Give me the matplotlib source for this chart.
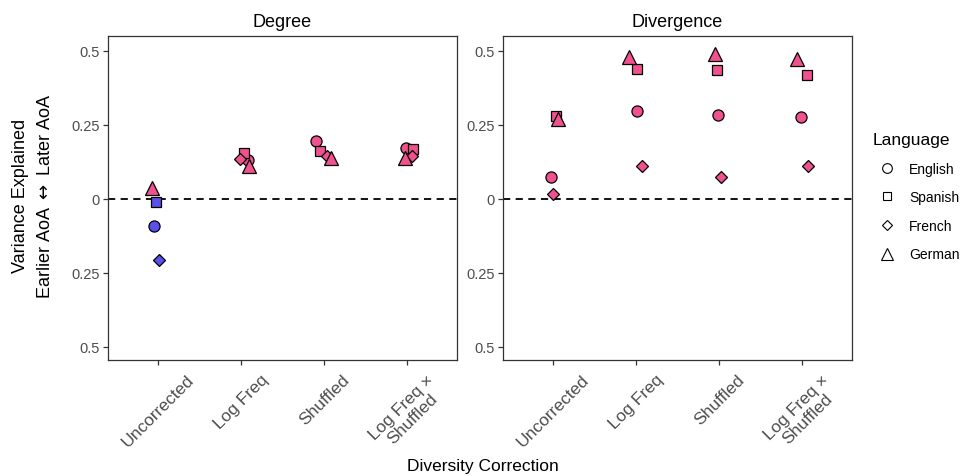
import numpy as np
import matplotlib.pyplot as plt
from matplotlib.lines import Line2D

plt.rcParams['font.family'] = ['Liberation Sans', 'DejaVu Sans']
plt.rcParams['mathtext.fontset'] = 'dejavusans'

corrections = ["Uncorrected", "Log Freq", "Shuffled", "Log Freq \u00d7\nShuffled"]
languages = ["English", "Spanish", "French", "German"]
lang_markers = {"English": "o", "Spanish": "s", "French": "D", "German": "^"}
panels = ["Degree", "Divergence"]

# values[panel][language] -> one value per correction
values = {
    "Degree": {
        "English": [-0.091, 0.132, 0.194, 0.172],
        "Spanish": [-0.010, 0.155, 0.160, 0.167],
        "French":  [-0.206, 0.135, 0.143, 0.146],
        "German":  [0.037, 0.112, 0.137, 0.138],
    },
    "Divergence": {
        "English": [0.074, 0.297, 0.283, 0.275],
        "Spanish": [0.279, 0.439, 0.435, 0.417],
        "French":  [0.015, 0.112, 0.072, 0.109],
        "German":  [0.270, 0.479, 0.489, 0.473],
    },
}
# horizontal jitter (category units) as drawn
jitter = {
    "Degree": {
        "English": [-0.044, 0.084, -0.096, -0.008],
        "Spanish": [-0.020, 0.040, -0.044, 0.076],
        "French":  [0.016, -0.008, 0.032, 0.064],
        "German":  [-0.072, 0.092, 0.080, -0.028],
    },
    "Divergence": {
        "English": [-0.028, 0.008, -0.016, -0.008],
        "Spanish": [0.036, 0.008, -0.020, 0.064],
        "French":  [0.000, 0.076, 0.020, 0.068],
        "German":  [0.056, -0.084, -0.048, -0.064],
    },
}

pos_color = "#F0528F"
neg_color = "#5B50E8"
sizes = {"o": 8, "s": 7, "D": 6.5, "^": 9.5}

fig = plt.figure(figsize=(9.65, 4.77), dpi=100)
axes = [fig.add_axes([108/965, 1-361/477, 349/965, 324/477]),
        fig.add_axes([503/965, 1-361/477, 349/965, 324/477])]

x = np.arange(1, len(corrections) + 1)
for ax, panel in zip(axes, panels):
    ax.axhline(0, color="black", linestyle=(0, (4, 3)), linewidth=1.3, zorder=1)
    for lang in languages:
        v = np.array(values[panel][lang])
        xs = x + np.array(jitter[panel][lang])
        m = lang_markers[lang]
        for xi, vi in zip(xs, v):
            ax.plot(xi, vi, marker=m, markersize=sizes[m], linestyle="none",
                    markerfacecolor=pos_color if vi >= 0 else neg_color,
                    markeredgecolor="black", markeredgewidth=0.9, zorder=3)
    ax.set_xlim(0.4, 4.6)
    ax.set_ylim(-0.545, 0.55)
    ax.set_yticks([-0.5, -0.25, 0, 0.25, 0.5])
    ax.set_yticklabels(["0.5", "0.25", "0", "0.25", "0.5"])
    ax.set_xticks(x)
    ax.set_xticklabels(corrections, rotation=45, ha="center", va="top",
                       rotation_mode="default", linespacing=1.05)
    ax.tick_params(axis="both", direction="out", length=3.5, width=0.9,
                   colors="#333333", labelcolor="#4D4D4D")
    ax.tick_params(axis="x", labelsize=12.5, pad=5)
    ax.tick_params(axis="y", labelsize=10.5, pad=2.5)
    for s in ax.spines.values():
        s.set_linewidth(0.9)
        s.set_color("#333333")
    ax.set_title(panel, fontsize=13, pad=7)

fig.text(0.5, 1 - 467/477, "Diversity Correction", ha="center", va="center", fontsize=12.5)
fig.text(33/965, 1 - 196/477, "Variance Explained\nEarlier AoA $\\leftrightarrow$ Later AoA",
         rotation=90, ha="center", va="center", fontsize=13, linespacing=1.65)

handles = [Line2D([], [], marker=lang_markers[l], linestyle="none",
                  markersize=sizes[lang_markers[l]] - 1, markerfacecolor="none",
                  markeredgecolor="black", markeredgewidth=0.8, label=l)
           for l in languages]
leg = fig.legend(handles=handles, title="Language", loc="upper left",
                 bbox_to_anchor=(862/965, 1 - 122/477), frameon=False,
                 fontsize=10, title_fontsize=12.5, handletextpad=0.6,
                 labelspacing=1.05, borderpad=0.3, alignment="left")

fig.savefig("out.png", dpi=100)
